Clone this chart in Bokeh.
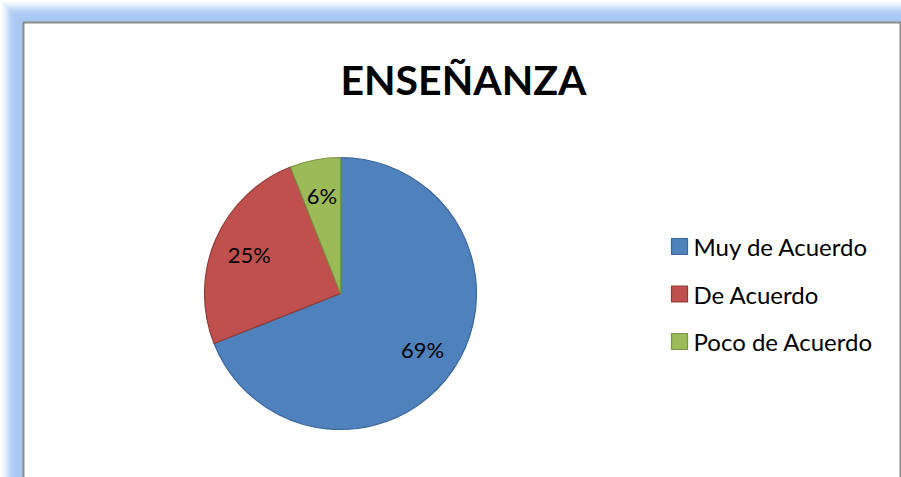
import math
from bokeh.plotting import figure
from bokeh.models import ColumnDataSource, Range1d
from bokeh.core.properties import value
from bokeh.embed import file_html
from bokeh.resources import INLINE

# ---- data ----
title_text = "ENSEÑANZA"
categories = ["Muy de Acuerdo", "De Acuerdo", "Poco de Acuerdo"]
percents = [69, 25, 6]
fill_colors = ["#4f81bd", "#c0504d", "#9bbb59"]
edge_colors = ["#3b679c", "#8f3b39", "#7a9544"]

W, H = 901, 477
FONT = "Lato"

p = figure(width=W, height=H, x_range=Range1d(0, W), y_range=Range1d(0, H),
           x_axis_type=None, y_axis_type=None, min_border=0,
           toolbar_location=None, output_backend="svg")
p.grid.visible = False
p.outline_line_color = None
p.background_fill_color = "white"
p.border_fill_color = "white"

# ---- glow frame (decoration) ----
glow = ["#fbfdff", "#f0f6fe", "#e2edfc", "#d2e3fa", "#c3daf7", "#b7d2f5",
        "#afcdf4", "#abcaf3", "#a9c9f3", "#a8c8f2", "#a6c6f0"]
step = 2
for i, c in enumerate(glow):
    p.quad(left=i * step, right=W + 20, top=H - i * step, bottom=-20,
           fill_color=c, line_color=None)
inner_left = 23
inner_top = H - 22
p.quad(left=inner_left, right=W - 1, top=inner_top, bottom=-20,
       fill_color="white", line_color="#8a8a8a", line_width=2)

# ---- pie ----
cx, cy = 340, H - 293
R = 136
total = sum(percents)
starts, ends, mids = [], [], []
acc = 0.0
for v in percents:
    a0 = math.pi / 2 - acc / total * 2 * math.pi
    acc += v
    a1 = math.pi / 2 - acc / total * 2 * math.pi
    starts.append(a0)
    ends.append(a1)
    mids.append((a0 + a1) / 2)

src = ColumnDataSource(dict(start=starts, end=ends, fill=fill_colors, edge=edge_colors,
                            cat=categories, pct=percents))
p.wedge(x=cx, y=cy, radius=R, radius_units="screen", start_angle="start", end_angle="end",
        direction="clock", fill_color="fill", line_color="edge", line_width=1.2, source=src)

lr = R * 0.73
lab = ColumnDataSource(dict(
    x=[cx + lr * math.cos(m) for m in mids],
    y=[cy + lr * math.sin(m) for m in mids],
    t=[f"{v}%" for v in percents]))
p.text(x="x", y="y", text="t", source=lab, text_align="center", text_baseline="middle",
       text_font=value(FONT), text_font_size="22px", text_color="black")

# ---- title ----
p.text(x=[463], y=[H - 79], text=[title_text], text_align="center",
       text_baseline="middle", text_font=value(FONT), text_font_style="bold",
       text_font_size="41px", text_color="black")

# ---- legend ----
leg_y0 = H - 246
leg_dy = 47.5
leg_src = ColumnDataSource(dict(
    y=[leg_y0 - i * leg_dy for i in range(len(categories))],
    fill=fill_colors, edge=edge_colors, cat=categories))
p.rect(x=679, y="y", width=16, height=16, width_units="screen", height_units="screen",
       fill_color="fill", line_color="edge", line_width=1.2, source=leg_src)
p.text(x=693, y="y", text="cat", source=leg_src, text_align="left", text_baseline="middle",
       text_font=value(FONT), text_font_size="24px", text_color="black")

open("out.html", "w").write(file_html(p, INLINE))
